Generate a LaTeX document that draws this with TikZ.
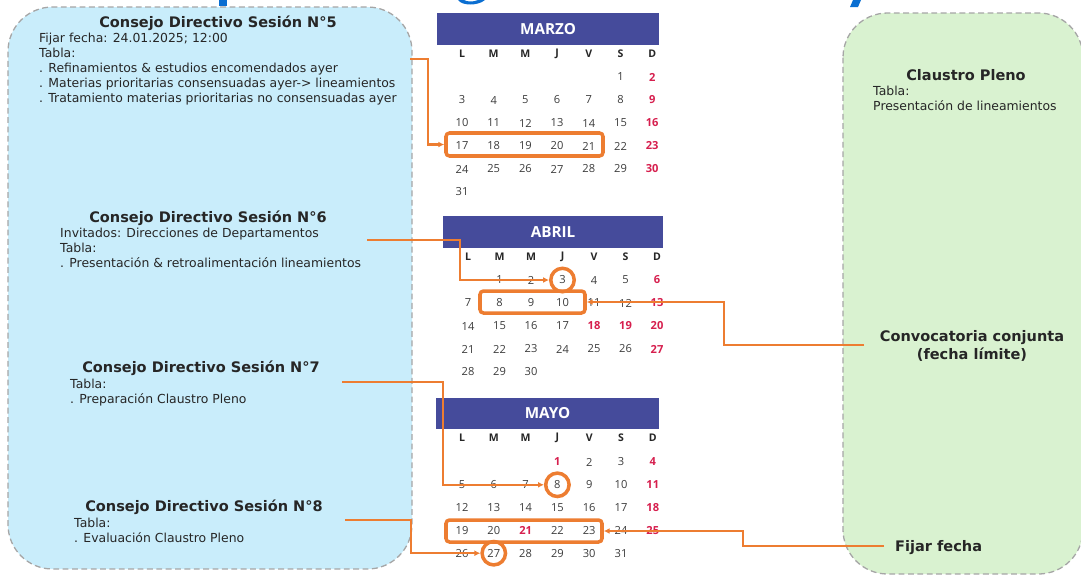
\documentclass[tikz,border=0pt]{standalone}
\usepackage{fontspec}
\setmainfont{DejaVu Sans}
\newfontfamily\calfont{Open Sans}
\usetikzlibrary{arrows.meta,fit}

\definecolor{panelblue}{HTML}{C9EDFB}
\definecolor{panelgreen}{HTML}{D9F2D0}
\definecolor{bordergrey}{HTML}{A6A6A6}
\definecolor{linkorange}{HTML}{ED7D31}
\definecolor{headblue}{HTML}{454B9B}
\definecolor{dayred}{HTML}{D61F4E}
\definecolor{textdark}{HTML}{262626}
\definecolor{titleblue}{HTML}{0A6ED1}

\tikzset{
  panel/.style={draw=bordergrey, dashed, line width=1.1pt, dash pattern=on 5pt off 3pt, rounded corners=38pt},
  sestitle/.style={inner sep=0pt, text=textdark, font=\fontsize{12.4}{15.3}\selectfont\bfseries},
  sesbody/.style={inner sep=0pt, anchor=north west, align=left, text=textdark, font=\fontsize{10.6}{12.75}\selectfont},
  monthbar/.style={fill=headblue, inner sep=0pt, minimum height=0.96cm, text=white, font=\calfont\bfseries\fontsize{13}{15}\selectfont},
  wday/.style={inner sep=0pt, text=textdark, font=\calfont\bfseries\fontsize{9}{10}\selectfont},
  day/.style={inner sep=0pt, text=textdark!90, font=\calfont\fontsize{9.5}{10}\selectfont},
  dayred/.style={inner sep=0pt, text=dayred, font=\calfont\bfseries\fontsize{9.5}{10}\selectfont},
  hlbox/.style={draw=linkorange, line width=3pt, rounded corners=3pt, inner sep=0pt},
  hlcirc/.style={draw=linkorange, line width=3pt, circle, minimum size=20pt, inner sep=0pt},
  conn/.style={draw=linkorange, line width=1.8pt, -{Latex[length=5pt,width=5pt]}}
}

\begin{document}
\begin{tikzpicture}[x=0.03cm,y=-0.03cm]
  \useasboundingbox (0,0) rectangle (1081,575);

  % cut-off title above
  \fill[titleblue] (219,0) rectangle (227,6);
  \fill[titleblue] (458,0) .. controls (462,6) and (478,6) .. (485,0) -- (478,0)
    .. controls (474,2) and (467,2) .. (464,0) -- cycle;
  \fill[titleblue] (853,0) -- (861,0) -- (858,7) -- (850,7) -- cycle;

  % panels
  \draw[panel, fill=panelblue] (8,7) rectangle (412,569);
  \draw[panel, fill=panelgreen] (843,13) rectangle (1083,574);

  % left panel: sessions
  \node[sestitle] (s5) at (218,23) {Consejo Directivo Sesión N°5};
  \node[sesbody] (s5b) at (39,33) {Fijar fecha: 24.01.2025; 12:00\\Tabla:\\. Refinamientos \& estudios encomendados ayer\\. Materias prioritarias consensuadas ayer-> lineamientos\\. Tratamiento materias prioritarias no consensuadas ayer};

  \node[sestitle] (s6) at (208,218) {Consejo Directivo Sesión N°6};
  \node[sesbody] (s6b) at (60,228) {Invitados: Direcciones de Departamentos\\Tabla:\\. Presentación \& retroalimentación lineamientos};

  \node[sestitle] (s7) at (201,368) {Consejo Directivo Sesión N°7};
  \node[sesbody] (s7b) at (70,379) {Tabla:\\. Preparación Claustro Pleno};

  \node[sestitle] (s8) at (204,507) {Consejo Directivo Sesión N°8};
  \node[sesbody] (s8b) at (74,518) {Tabla:\\. Evaluación Claustro Pleno};

  % right panel
  \node[sestitle] (claustro) at (966,75) {Claustro Pleno};
  \node[sesbody] (claustrob) at (873,86) {Tabla:\\Presentación de lineamientos};
  \node[sestitle, align=center] (conv) at (972,346) {Convocatoria conjunta\\(fecha límite)};
  \node[sestitle, anchor=west] (fijar) at (895,548) {Fijar fecha};

  % marzo
  \node[monthbar, minimum width=6.66cm] (marzo) at (548,29) {MARZO};
  \foreach \w [count=\i from 0] in {L,M,M,J,V,S,D}
    \node[wday] (mw\i) at ({462+31.7*\i},54) {\w};
  \foreach \d in {1,...,31}{
    \pgfmathtruncatemacro\pos{\d+4}
    \pgfmathtruncatemacro\col{mod(\pos,7)}
    \pgfmathtruncatemacro\row{floor(\pos/7)}
    \ifnum\col=6 \def\dst{dayred}\else\def\dst{day}\fi
    \node[\dst] (m\d) at ({462+31.7*\col},{77+23*\row}) {\d};
  }

  % abril
  \node[monthbar, minimum width=6.6cm] (abril) at (553,232) {ABRIL};
  \foreach \w [count=\i from 0] in {L,M,M,J,V,S,D}
    \node[wday] (aw\i) at ({468+31.5*\i},257) {\w};
  \foreach \d in {1,...,30}{
    \pgfmathtruncatemacro\pos{\d}
    \pgfmathtruncatemacro\col{mod(\pos,7)}
    \pgfmathtruncatemacro\row{floor(\pos/7)}
    \ifnum\col=6 \def\dst{dayred}\else\def\dst{day}\fi
    \ifnum\d=18 \def\dst{dayred}\fi
    \ifnum\d=19 \def\dst{dayred}\fi
    \node[\dst] (a\d) at ({468+31.5*\col},{280+23*\row}) {\d};
  }

  % mayo
  \node[monthbar, minimum width=6.69cm, minimum height=0.93cm] (mayo) at (547.5,413.5) {MAYO};
  \foreach \w [count=\i from 0] in {L,M,M,J,V,S,D}
    \node[wday] (yw\i) at ({462+31.8*\i},438) {\w};
  \foreach \d in {1,...,31}{
    \pgfmathtruncatemacro\pos{\d+2}
    \pgfmathtruncatemacro\col{mod(\pos,7)}
    \pgfmathtruncatemacro\row{floor(\pos/7)}
    \ifnum\col=6 \def\dst{dayred}\else\def\dst{day}\fi
    \ifnum\d=1 \def\dst{dayred}\fi
    \ifnum\d=21 \def\dst{dayred}\fi
    \node[\dst] (y\d) at ({462+31.8*\col},{462+22.8*\row}) {\d};
  }

  % highlights
  \node[hlbox, fit={(446,133) (603,156)}] (mbox) {};
  \node[hlcirc] (acirc) at (a3) {};
  \node[hlbox, fit={(480,291) (585,313)}] (abox) {};
  \node[hlcirc] (ycirc8) at (y8) {};
  \node[hlbox, fit={(446,520) (602,542)}] (ybox) {};
  \node[hlcirc] (ycirc27) at (y27) {};

  % connectors
  \coordinate (s5out) at (410,59);
  \coordinate (s6out) at (367,240);
  \coordinate (s7out) at (342,382);
  \coordinate (s8out) at (345,520);
  \coordinate (convout) at (864,345);
  \coordinate (fijout) at (884,546);
  \draw[conn] (s5out) -- ++(18,0) |- (mbox.west);
  \draw[conn] (s6out) -- ++(93,0) |- (acirc.west);
  \draw[conn] (convout) -- ++(-140,0) |- (abox.east);
  \draw[conn] (s7out) -- ++(101,0) |- (ycirc8.west);
  \draw[conn] (s8out) -- ++(66,0) |- (ycirc27.west);
  \draw[conn] (fijout) -- ++(-141,0) |- (ybox.east);
\end{tikzpicture}
\end{document}
